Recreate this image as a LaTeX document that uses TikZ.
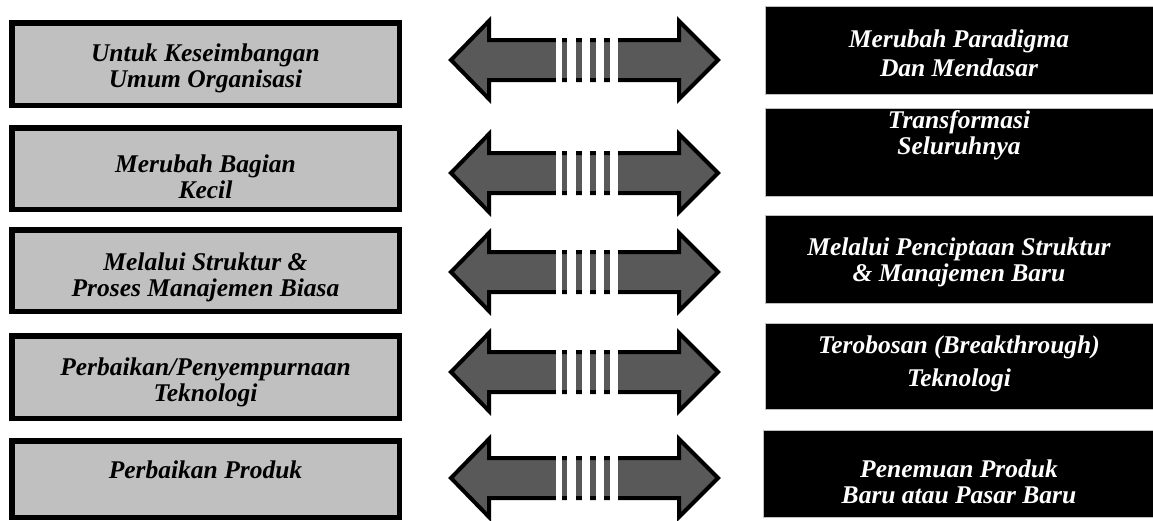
\documentclass[tikz,border=0pt]{standalone}
\usepackage{fontspec}
\setmainfont{Liberation Serif}
\definecolor{boxgray}{HTML}{C0C0C0}
\definecolor{arrgray}{HTML}{595959}
\newcommand{\twol}[3][26pt]{\vtop{\baselineskip=#1\lineskiplimit=-100pt\halign{\hfil##\hfil\cr#2\cr#3\cr}}}
\newcommand{\myarrow}[1]{%
  \filldraw[fill=arrgray, draw=black, line width=4pt, line join=miter]
    (451,#1) -- (489,#1-39) -- (489,#1-20) -- (679,#1-20) -- (679,#1-39) -- (718,#1)
    -- (679,#1+39) -- (679,#1+20) -- (489,#1+20) -- (489,#1+39) -- cycle;
  \foreach \a/\b in {556/562,567/576,582/590,596/604,610/618}
    \fill[white] (\a,#1-25) rectangle (\b,#1+25);
}
\tikzset{
  lbox/.style={fill=boxgray, draw=black, line width=5.5pt},
  rbox/.style={fill=black, draw=gray!50, line width=0.8pt},
  ltxt/.style={font=\fontsize{25.5}{26}\selectfont\bfseries\itshape, anchor=base, inner sep=0pt},
  rtxt/.style={ltxt, text=white}
}
\begin{document}
\begin{tikzpicture}[x=1pt,y=-1pt]
\useasboundingbox (0,0) rectangle (1153,520);
% left boxes
\draw[lbox] (11.75,22.75) rectangle (399.25,105.25);
\draw[lbox] (11.75,127.75) rectangle (399.25,209.25);
\draw[lbox] (11.75,229.75) rectangle (399.25,311.25);
\draw[lbox] (11.75,335.75) rectangle (399.25,418.25);
\draw[lbox] (11.75,440.75) rectangle (399.25,517.25);
\node[ltxt] (l1) at (205.5,61) {\twol{Untuk Keseimbangan}{Umum Organisasi}};
\node[ltxt] (l2) at (205.5,172) {\twol{Merubah Bagian}{Kecil}};
\node[ltxt] (l3) at (205.5,270) {\twol{Melalui Struktur \&}{Proses Manajemen Biasa}};
\node[ltxt] (l4) at (205.5,375) {\twol{Perbaikan/Penyempurnaan}{Teknologi}};
\node[ltxt] (l5) at (205.5,478) {Perbaikan Produk};
% right boxes
\draw[rbox] (765,6) rectangle (1153,94);
\draw[rbox] (765,108) rectangle (1153,196);
\draw[rbox] (765,215) rectangle (1153,303);
\draw[rbox] (765,323) rectangle (1153,409);
\draw[rbox] (763,430) rectangle (1153,517);
\node[rtxt] (r1) at (959,47) {\twol[29pt]{Merubah Paradigma}{Dan Mendasar}};
\node[rtxt] (r2) at (959,128) {\twol{Transformasi}{Seluruhnya}};
\node[rtxt] (r3) at (959,255) {\twol{Melalui Penciptaan Struktur}{\& Manajemen Baru}};
\node[rtxt] (r4) at (959,353) {\twol[33pt]{Terobosan (Breakthrough)}{Teknologi}};
\node[rtxt] (r5) at (959,477) {\twol{Penemuan Produk}{Baru atau Pasar Baru}};
% arrows
\myarrow{60}
\myarrow{173}
\myarrow{272}
\myarrow{372}
\myarrow{478}
\end{tikzpicture}
\end{document}
